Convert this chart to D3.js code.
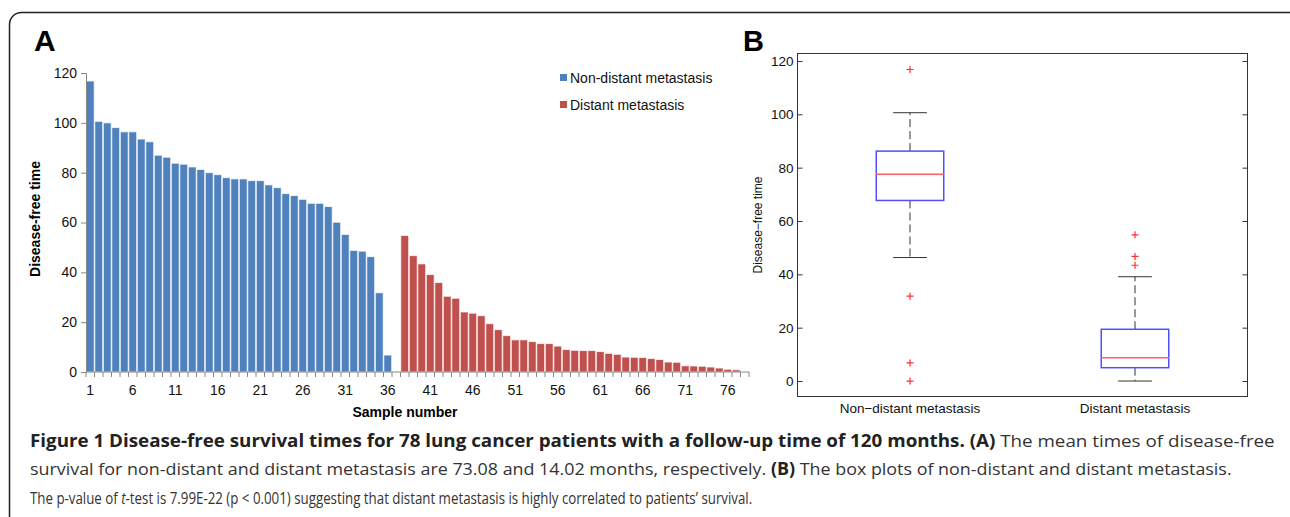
<!DOCTYPE html>
<html>
<head>
<meta charset="utf-8">
<script src="https://cdn.jsdelivr.net/npm/d3@7"></script>
<style>
  body { margin: 0; background: #fff; }
  svg { display: block; }
</style>
</head>
<body>
<svg id="fig" width="1290" height="517"></svg>
<script>
// disease-free time, sorted descending
const nonDistant = [116.8, 100.6, 100.0, 98.1, 96.4, 96.4, 93.5, 92.4, 87.0, 86.2,
  83.8, 83.4, 82.3, 81.3, 80.0, 79.2, 78.0, 77.5, 77.5, 76.8,
  76.8, 75.1, 74.0, 71.6, 70.8, 69.3, 67.7, 67.7, 66.4, 60.1,
  55.2, 48.8, 48.5, 46.3, 31.8, 6.8, 0]
const distant = [54.8, 46.7, 43.4, 39.1, 35.9, 30.4, 29.6, 24.1, 23.6, 22.6,
  19.4, 17.0, 14.6, 12.9, 12.9, 12.2, 11.4, 11.4, 10.4, 9.0,
  8.7, 8.6, 8.6, 8.2, 7.5, 7.1, 6.0, 5.9, 5.8, 5.4,
  5.0, 4.0, 3.9, 2.5, 2.4, 2.3, 2.0, 1.6, 1.1, 0.9, 0]
const groupNames = ["Non-distant metastasis", "Distant metastasis"]
const boxNames = ["Non\u2212distant metastasis", "Distant metastasis"]
const xTickLabels = [1, 6, 11, 16, 21, 26, 31, 36, 41, 46, 51, 56, 61, 66, 71, 76]
const yTicks = [0, 20, 40, 60, 80, 100, 120]
const colors = ["#4F81BD", "#C0504D"]

const svg = d3.select("#fig")

// outer frame
svg.append("rect")
  .attr("x", 9.5).attr("y", 12.5)
  .attr("width", 1300).attr("height", 540)
  .attr("rx", 12)
  .attr("fill", "none")
  .attr("stroke", "#222")
  .attr("stroke-width", 1.5)

// ---------- Panel A ----------
const samples = []
nonDistant.forEach(v => samples.push({ n: samples.length + 1, v, g: 0 }))
distant.forEach(v => samples.push({ n: samples.length + 1, v, g: 1 }))

const xA = d3.scaleBand().domain(samples.map(d => d.n)).range([86, 749]).padding(0)
const yA = d3.scaleLinear().domain([0, 120]).range([372, 73])

const gA = svg.append("g").style("font-family", "'Liberation Sans', Arial, sans-serif")

gA.append("text")
  .attr("x", 34).attr("y", 51)
  .style("font-size", "30px").style("font-weight", "bold")
  .text("A")

gA.selectAll(".bar")
  .data(samples.filter(d => d.v > 0))
  .enter().append("rect")
  .attr("class", "bar")
  .attr("x", d => xA(d.n) + 0.3)
  .attr("width", xA.bandwidth() - 0.6)
  .attr("y", d => yA(d.v))
  .attr("height", d => yA(0) - yA(d.v))
  .attr("fill", d => colors[d.g])
  .attr("stroke", "#fff")
  .attr("stroke-opacity", 0.75)
  .attr("stroke-width", 1)

// y axis
const yAxisA = gA.append("g")
  .attr("transform", "translate(86,0)")
  .call(d3.axisLeft(yA).tickValues(yTicks).tickSize(5).tickPadding(4))
yAxisA.selectAll("text").style("font-size", "14px").style("fill", "#111")
  .style("font-family", "'Liberation Sans', Arial, sans-serif")
yAxisA.select(".domain").attr("stroke", "#888")
yAxisA.selectAll(".tick line").attr("stroke", "#888")

// x axis: ticks between categories, labels at centres
const xAxisA = gA.append("g").attr("transform", "translate(0,372)")
xAxisA.append("line")
  .attr("x1", 86).attr("x2", 749)
  .attr("stroke", "#888")
xAxisA.selectAll(".tk")
  .data(samples)
  .enter().append("line")
  .attr("x1", d => xA(d.n) + xA.bandwidth())
  .attr("x2", d => xA(d.n) + xA.bandwidth())
  .attr("y1", 0).attr("y2", 5)
  .attr("stroke", "#888")
xAxisA.append("line").attr("x1", 86).attr("x2", 86).attr("y1", 0).attr("y2", 5).attr("stroke", "#888")
xAxisA.selectAll(".lbl")
  .data(xTickLabels)
  .enter().append("text")
  .attr("x", d => xA(d) + xA.bandwidth() / 2)
  .attr("y", 23)
  .attr("text-anchor", "middle")
  .style("font-size", "14px")
  .style("fill", "#111")
  .text(d => d)

gA.append("text")
  .attr("x", 405).attr("y", 417)
  .attr("text-anchor", "middle")
  .style("font-size", "14px").style("font-weight", "bold")
  .text("Sample number")

gA.append("text")
  .attr("transform", "translate(40,219) rotate(-90)")
  .attr("text-anchor", "middle")
  .style("font-size", "14px").style("font-weight", "bold")
  .text("Disease-free time")

// legend
const legend = gA.selectAll(".legend")
  .data(groupNames)
  .enter().append("g")
  .attr("transform", (d, i) => `translate(560,${74 + i * 27})`)
legend.append("rect")
  .attr("width", 7).attr("height", 7)
  .attr("fill", (d, i) => colors[i])
legend.append("text")
  .attr("x", 10).attr("y", 9)
  .style("font-size", "14px")
  .style("fill", "#111")
  .text(d => d)

// ---------- Panel B ----------
const gB = svg.append("g").style("font-family", "'Liberation Sans', Arial, sans-serif")

gB.append("text")
  .attr("x", 743).attr("y", 51)
  .style("font-size", "29px").style("font-weight", "bold")
  .text("B")

const xB = d3.scaleLinear().domain([0.5, 2.5]).range([797.5, 1247.5])
const yB = d3.scaleLinear().domain([-5.8, 122.8]).range([396.5, 53.5])

gB.append("rect")
  .attr("x", xB(0.5)).attr("y", yB(122.8))
  .attr("width", xB(2.5) - xB(0.5)).attr("height", yB(-5.8) - yB(122.8))
  .attr("fill", "none").attr("stroke", "#333").attr("stroke-width", 1)

const yAxisB = gB.append("g")
  .attr("transform", `translate(${xB(0.5)},0)`)
  .call(d3.axisRight(yB).tickValues(yTicks).tickSize(5).tickFormat(""))
yAxisB.select(".domain").remove()
yAxisB.selectAll(".tick line").attr("stroke", "#333")
const yAxisB2 = gB.append("g")
  .attr("transform", `translate(${xB(2.5)},0)`)
  .call(d3.axisLeft(yB).tickValues(yTicks).tickSize(5).tickFormat(""))
yAxisB2.select(".domain").remove()
yAxisB2.selectAll(".tick line").attr("stroke", "#333")

gB.selectAll(".ylab")
  .data(yTicks)
  .enter().append("text")
  .attr("x", xB(0.5) - 4)
  .attr("y", d => yB(d) + 5)
  .attr("text-anchor", "end")
  .style("font-size", "13.5px")
  .style("fill", "#111")
  .text(d => d)

gB.append("text")
  .attr("transform", "translate(762,225) rotate(-90)")
  .attr("text-anchor", "middle")
  .style("font-size", "12px")
  .style("fill", "#111")
  .text("Disease\u2212free time")

gB.selectAll(".xlab")
  .data(boxNames)
  .enter().append("text")
  .attr("x", (d, i) => xB(i + 1))
  .attr("y", 413)
  .attr("text-anchor", "middle")
  .style("font-size", "13.5px")
  .style("fill", "#111")
  .text(d => d)

function boxStats(values) {
  const s = values.slice().sort(d3.ascending)
  const q1 = d3.quantile(s, 0.25), med = d3.quantile(s, 0.5), q3 = d3.quantile(s, 0.75)
  const iqr = q3 - q1
  const lo = q1 - 1.5 * iqr, hi = q3 + 1.5 * iqr
  const inside = s.filter(v => v >= lo && v <= hi)
  return { q1, med, q3, wLo: d3.min(inside), wHi: d3.max(inside), out: s.filter(v => v < lo || v > hi) }
}

const boxW = 0.3, capW = 0.15
;[nonDistant, distant].forEach((vals, i) => {
  const st = boxStats(vals)
  const cx = xB(i + 1)
  const half = (xB(1 + boxW / 2) - xB(1))
  const cap = (xB(1 + capW / 2) - xB(1))
  const g = gB.append("g")
  // whiskers
  g.append("line").attr("x1", cx).attr("x2", cx).attr("y1", yB(st.q3)).attr("y2", yB(st.wHi))
    .attr("stroke", "#333").attr("stroke-dasharray", "8,4")
  g.append("line").attr("x1", cx).attr("x2", cx).attr("y1", yB(st.q1)).attr("y2", yB(st.wLo))
    .attr("stroke", "#333").attr("stroke-dasharray", "8,4")
  ;[st.wHi, st.wLo].forEach(v => {
    g.append("line").attr("x1", cx - cap).attr("x2", cx + cap).attr("y1", yB(v)).attr("y2", yB(v))
      .attr("stroke", "#333")
  })
  g.append("rect")
    .attr("x", cx - half).attr("width", 2 * half)
    .attr("y", yB(st.q3)).attr("height", yB(st.q1) - yB(st.q3))
    .attr("fill", "none").attr("stroke", "#5050ff").attr("stroke-width", 1.5)
  g.append("line").attr("x1", cx - half).attr("x2", cx + half)
    .attr("y1", yB(st.med)).attr("y2", yB(st.med))
    .attr("stroke", "#ff6060").attr("stroke-width", 1.5)
  g.selectAll(".out")
    .data(st.out)
    .enter().append("path")
    .attr("d", d => `M${cx - 3.5},${yB(d)}h7M${cx},${yB(d) - 3.5}v7`)
    .attr("stroke", "#ff3030").attr("stroke-width", 1.2)
})

// ---------- Caption ----------
const cap = svg.append("g")
  .style("font-family", "'Open Sans', 'Noto Sans', sans-serif")
  .style("font-size", "17px")
  .style("fill", "#333")

// each line is squeezed horizontally to the width it has in the figure
function fitLine(text, y, width) {
  const w = text.node().getComputedTextLength()
  text.attr("transform", `translate(30,${y}) scale(${width / w},1)`)
}

const l1 = cap.append("text")
l1.append("tspan").style("font-weight", "bold").style("fill", "#222")
  .text("Figure 1 Disease-free survival times for 78 lung cancer patients with a follow-up time of 120 months. (A)")
l1.append("tspan").text(" The mean times of disease-free")
fitLine(l1, 447, 1245)

const l2 = cap.append("text")
l2.append("tspan").text("survival for non-distant and distant metastasis are 73.08 and 14.02 months, respectively. ")
l2.append("tspan").style("font-weight", "bold").style("fill", "#222").text("(B)")
l2.append("tspan").text(" The box plots of non-distant and distant metastasis.")
fitLine(l2, 475, 1203)

const l3 = cap.append("text")
l3.append("tspan").text("The p-value of ")
l3.append("tspan").style("font-style", "italic").text("t")
l3.append("tspan").text("-test is 7.99E-22 (p < 0.001) suggesting that distant metastasis is highly correlated to patients\u2019 survival.")
fitLine(l3, 504, 723)
</script>
</body>
</html>
